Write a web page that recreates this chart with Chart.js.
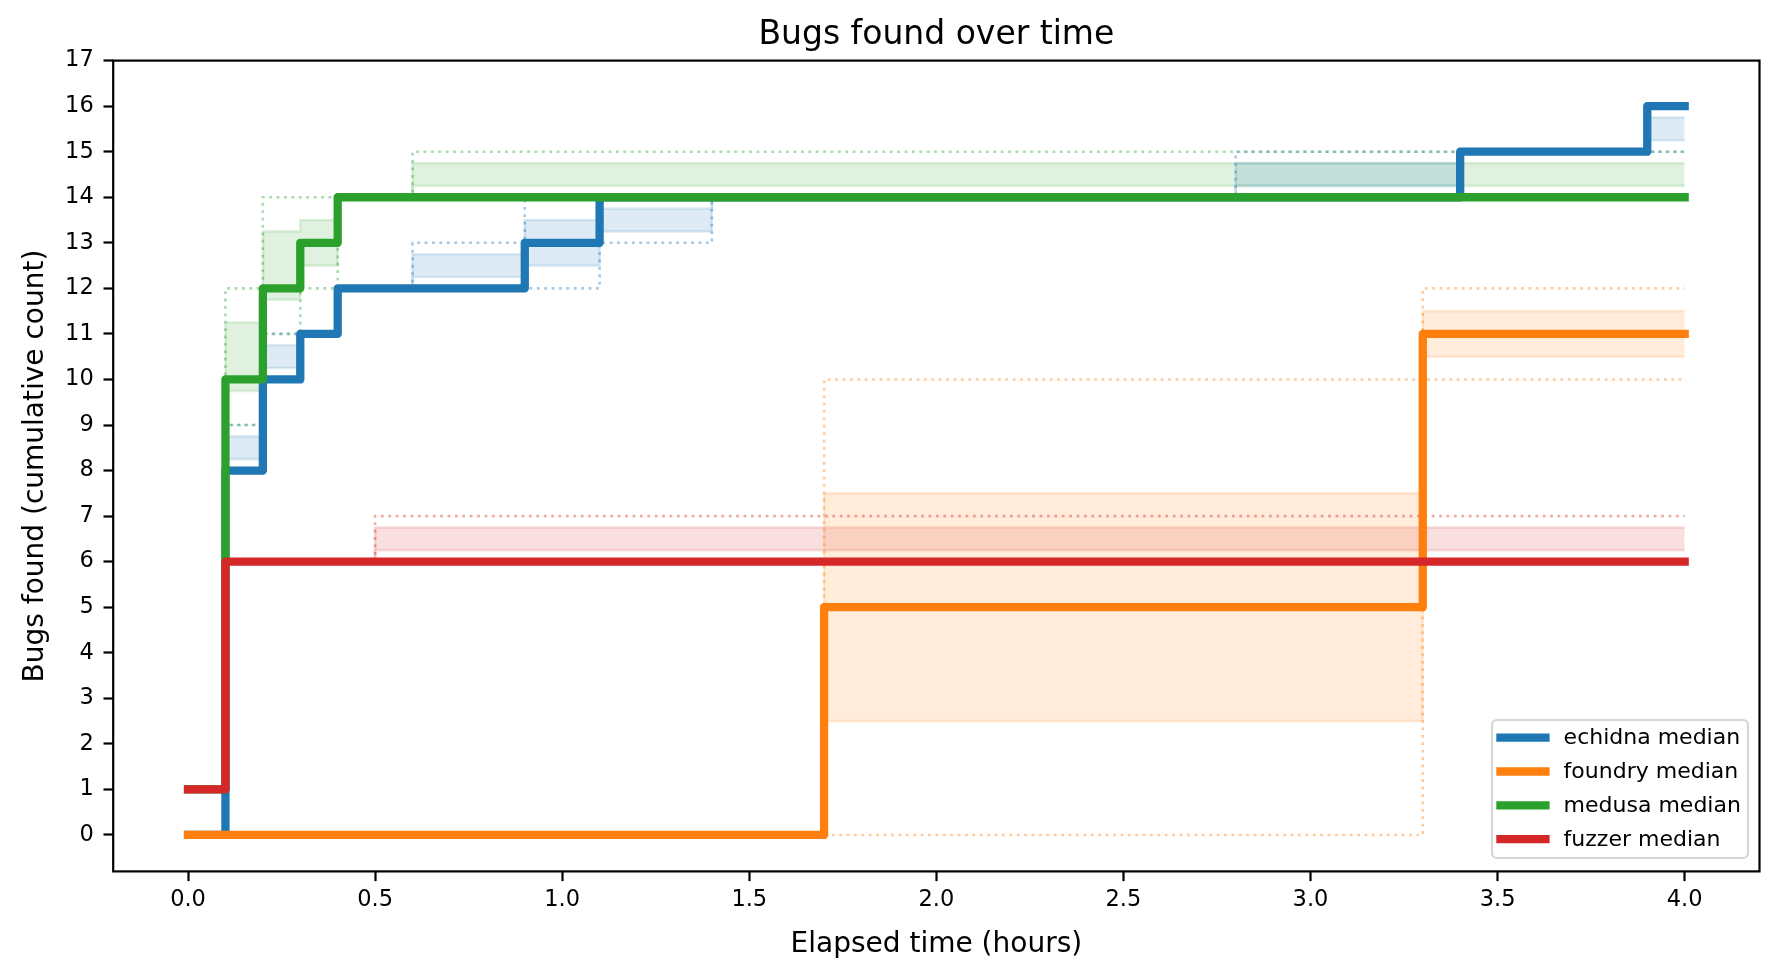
<!DOCTYPE html>
<html>
<head>
<meta charset="utf-8">
<title>Bugs found over time</title>
<script src="https://cdn.jsdelivr.net/npm/chart.js@4.4.1/dist/chart.umd.min.js"></script>
<style>
    html, body { margin: 0; padding: 0; background: #ffffff; }
    #wrap { width: 1779px; height: 978px; }
</style>
</head>
<body>
<div id="wrap"><canvas id="bugsChart" width="1779" height="978"></canvas></div>
<script>
// Общая сетка моментов времени (часы), где меняется хотя бы одна ступенька
const hours = [0, 0.1, 0.2, 0.3, 0.4, 0.5, 0.6, 0.9, 1.1, 1.4, 1.7, 2.8, 3.3, 3.4, 3.9, 4.0];

// echidna
const echidnaMedian = [0, 8, 10, 11, 12, 12, 12, 13, 14, 14, 14, 14, 14, 15, 16, 16];
const echidnaLow    = [0, 8.25, 10.25, 11, 12, 12, 12.25, 12.5, 13.25, 14, 14, 14.25, 14.25, 15, 15.25, 15.25];
const echidnaHigh   = [0, 8.75, 10.75, 11, 12, 12, 12.75, 13.5, 13.75, 14, 14, 14.75, 14.75, 15, 15.75, 15.75];
const echidnaMin    = [0, 8, 10, 11, 12, 12, 12, 12, 13, 14, 14, 14, 14, 15, 15, 15];
const echidnaMax    = [0, 9, 11, 11, 12, 12, 13, 14, 14, 14, 14, 15, 15, 15, 16, 16];

// foundry
const foundryMedian = [0, 0, 0, 0, 0, 0, 0, 0, 0, 0, 5, 5, 11, 11, 11, 11];
const foundryLow    = [0, 0, 0, 0, 0, 0, 0, 0, 0, 0, 2.5, 2.5, 10.5, 10.5, 10.5, 10.5];
const foundryHigh   = [0, 0, 0, 0, 0, 0, 0, 0, 0, 0, 7.5, 7.5, 11.5, 11.5, 11.5, 11.5];
const foundryMin    = [0, 0, 0, 0, 0, 0, 0, 0, 0, 0, 0, 0, 10, 10, 10, 10];
const foundryMax    = [0, 0, 0, 0, 0, 0, 0, 0, 0, 0, 10, 10, 12, 12, 12, 12];

// medusa
const medusaMedian = [1, 10, 12, 13, 14, 14, 14, 14, 14, 14, 14, 14, 14, 14, 14, 14];
const medusaLow    = [1, 9.75, 11.75, 12.5, 14, 14, 14.25, 14.25, 14.25, 14.25, 14.25, 14.25, 14.25, 14.25, 14.25, 14.25];
const medusaHigh   = [1, 11.25, 13.25, 13.5, 14, 14, 14.75, 14.75, 14.75, 14.75, 14.75, 14.75, 14.75, 14.75, 14.75, 14.75];
const medusaMin    = [1, 9, 11, 12, 14, 14, 14, 14, 14, 14, 14, 14, 14, 14, 14, 14];
const medusaMax    = [1, 12, 14, 14, 14, 14, 15, 15, 15, 15, 15, 15, 15, 15, 15, 15];

// fuzzer
const fuzzerMedian = [1, 6, 6, 6, 6, 6, 6, 6, 6, 6, 6, 6, 6, 6, 6, 6];
const fuzzerLow    = [1, 6, 6, 6, 6, 6.25, 6.25, 6.25, 6.25, 6.25, 6.25, 6.25, 6.25, 6.25, 6.25, 6.25];
const fuzzerHigh   = [1, 6, 6, 6, 6, 6.75, 6.75, 6.75, 6.75, 6.75, 6.75, 6.75, 6.75, 6.75, 6.75, 6.75];
const fuzzerMin    = [1, 6, 6, 6, 6, 6, 6, 6, 6, 6, 6, 6, 6, 6, 6, 6];
const fuzzerMax    = [1, 6, 6, 6, 6, 7, 7, 7, 7, 7, 7, 7, 7, 7, 7, 7];

// Подписи осей
const xTicks = [0, 0.5, 1.0, 1.5, 2.0, 2.5, 3.0, 3.5, 4.0];
const yTicks = [0, 1, 2, 3, 4, 5, 6, 7, 8, 9, 10, 11, 12, 13, 14, 15, 16, 17];
const chartTitle = 'Bugs found over time';
const xTitle = 'Elapsed time (hours)';
const yTitle = 'Bugs found (cumulative count)';

const series = [
    { name: 'echidna', color: '#1f77b4', median: echidnaMedian, low: echidnaLow, high: echidnaHigh, min: echidnaMin, max: echidnaMax },
    { name: 'foundry', color: '#ff7f0e', median: foundryMedian, low: foundryLow, high: foundryHigh, min: foundryMin, max: foundryMax },
    { name: 'medusa',  color: '#2ca02c', median: medusaMedian,  low: medusaLow,  high: medusaHigh,  min: medusaMin,  max: medusaMax },
    { name: 'fuzzer',  color: '#d62728', median: fuzzerMedian,  low: fuzzerLow,  high: fuzzerHigh,  min: fuzzerMin,  max: fuzzerMax }
];

function rgba(hex, a) {
    const n = parseInt(hex.slice(1), 16);
    return `rgba(${(n >> 16) & 255}, ${(n >> 8) & 255}, ${n & 255}, ${a})`;
}

function steps(values) {
    return hours.map((h, i) => ({ x: h, y: values[i] }));
}

// Собираем наборы: полосы внизу, пунктир над ними, медианы сверху
const datasets = [];
series.forEach((s, i) => {
    datasets.push({
        label: s.name + ' low',
        data: steps(s.low),
        stepped: 'before',
        borderColor: rgba(s.color, 0.15),
        borderWidth: 2.6,
        pointRadius: 0,
        fill: false,
        order: 40 + i
    });
    datasets.push({
        label: s.name + ' high',
        data: steps(s.high),
        stepped: 'before',
        borderColor: rgba(s.color, 0.15),
        backgroundColor: rgba(s.color, 0.15),
        borderWidth: 2.6,
        pointRadius: 0,
        fill: '-1',
        order: 40 + i
    });
    [s.min, s.max].forEach((vals, k) => {
        datasets.push({
            label: s.name + (k ? ' max' : ' min'),
            data: steps(vals),
            stepped: 'before',
            borderColor: rgba(s.color, 0.4),
            borderWidth: 2.6,
            borderDash: [2.8, 4.6],
            pointRadius: 0,
            fill: false,
            order: 30 + i
        });
    });
    datasets.push({
        label: s.name + ' median',
        data: steps(s.median),
        stepped: 'before',
        borderColor: s.color,
        borderWidth: 8.3,
        borderJoinStyle: 'round',
        borderCapStyle: 'square',
        pointRadius: 0,
        fill: false,
        order: 20 - i
    });
});

// Заголовок по центру области графика
const titlePlugin = {
    id: 'axesTitle',
    afterDraw(chart) {
        const { ctx, chartArea } = chart;
        ctx.save();
        ctx.font = '33px "DejaVu Sans"';
        ctx.fillStyle = '#000000';
        ctx.textAlign = 'center';
        ctx.textBaseline = 'alphabetic';
        ctx.fillText(chartTitle, (chartArea.left + chartArea.right) / 2, chartArea.top - 16.7);
        ctx.restore();
    }
};

// Рамка вокруг осей
const framePlugin = {
    id: 'axesFrame',
    afterDatasetsDraw(chart) {
        const { ctx, chartArea } = chart;
        ctx.save();
        ctx.strokeStyle = '#000000';
        ctx.lineWidth = 2.2;
        ctx.strokeRect(chartArea.left, chartArea.top, chartArea.right - chartArea.left, chartArea.bottom - chartArea.top);
        ctx.restore();
    }
};

// Легенда в правом нижнем углу
const legendPlugin = {
    id: 'cornerLegend',
    afterDraw(chart) {
        const { ctx, chartArea } = chart;
        const boxW = 256, boxH = 138;
        const x0 = chartArea.right - 11.5 - boxW;
        const y0 = chartArea.bottom - 13.4 - boxH;
        ctx.save();
        ctx.beginPath();
        ctx.roundRect(x0, y0, boxW, boxH, 5);
        ctx.fillStyle = 'rgba(255, 255, 255, 0.8)';
        ctx.fill();
        ctx.strokeStyle = '#d6d6d6';
        ctx.lineWidth = 2.2;
        ctx.stroke();
        ctx.font = '22px "DejaVu Sans"';
        ctx.textAlign = 'left';
        ctx.textBaseline = 'middle';
        series.forEach((s, i) => {
            const yc = y0 + 17.7 + i * 33.8;
            ctx.beginPath();
            ctx.moveTo(x0 + 4.3, yc);
            ctx.lineTo(x0 + 57.6, yc);
            ctx.strokeStyle = s.color;
            ctx.lineWidth = 8.3;
            ctx.lineCap = 'butt';
            ctx.stroke();
            ctx.fillStyle = '#000000';
            ctx.fillText(s.name + ' median', x0 + 71.6, yc + 0.7);
        });
        ctx.restore();
    }
};

Chart.defaults.font.family = '"DejaVu Sans"';
Chart.defaults.color = '#000000';

const ctx = document.getElementById('bugsChart').getContext('2d');
const chart = new Chart(ctx, {
    type: 'line',
    data: { datasets: datasets },
    options: {
        responsive: false,
        devicePixelRatio: 1,
        animation: false,
        layout: { padding: { top: 60.6, right: 19.5, bottom: 0, left: 0 } },
        plugins: {
            legend: { display: false },
            tooltip: { enabled: false },
            title: { display: false }
        },
        scales: {
            x: {
                type: 'linear',
                min: -0.2,
                max: 4.2,
                afterBuildTicks: (scale) => { scale.ticks = xTicks.map(v => ({ value: v })); },
                afterFit: (scale) => { scale.height = 106.6; },
                ticks: {
                    autoSkip: false,
                    maxRotation: 0,
                    padding: 5.5,
                    color: '#000000',
                    font: { size: 22.5 },
                    callback: (v) => Number(v).toFixed(1)
                },
                grid: {
                    drawOnChartArea: false,
                    drawTicks: true,
                    tickLength: 9.7,
                    tickWidth: 2.2,
                    tickColor: '#000000'
                },
                border: { display: false },
                title: {
                    display: true,
                    text: xTitle,
                    color: '#000000',
                    font: { size: 28 },
                    padding: { top: 0, bottom: 16 }
                }
            },
            y: {
                type: 'linear',
                min: -0.8,
                max: 17,
                afterBuildTicks: (scale) => { scale.ticks = yTicks.map(v => ({ value: v })); },
                afterFit: (scale) => { scale.width = 113.2; },
                ticks: {
                    autoSkip: false,
                    padding: 9.8,
                    color: '#000000',
                    font: { size: 22.5 },
                    callback: (v) => String(v)
                },
                grid: {
                    drawOnChartArea: false,
                    drawTicks: true,
                    tickLength: 9.7,
                    tickWidth: 2.2,
                    tickColor: '#000000'
                },
                border: { display: false },
                title: {
                    display: true,
                    text: yTitle,
                    color: '#000000',
                    font: { size: 28 },
                    padding: { top: 19, bottom: 0 }
                }
            }
        }
    },
    plugins: [framePlugin, titlePlugin, legendPlugin]
});
console.log('График построен', chart.chartArea);
</script>
</body>
</html>
